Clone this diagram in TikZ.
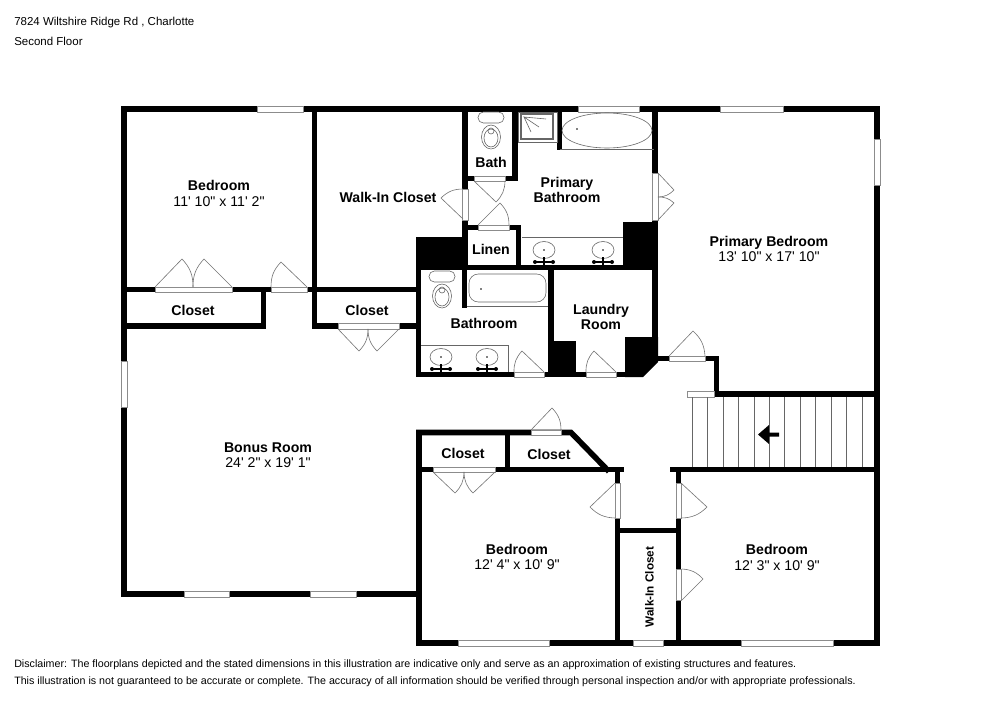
\documentclass[tikz,border=0pt]{standalone}
\usepackage{fontspec}
\newfontfamily\planfont{Liberation Sans}
\begin{document}
\begin{tikzpicture}[x=.75pt,y=-.75pt,wall/.style={draw=black,line width=4.2pt,line cap=rect,miter limit=10},
        opening/.style={draw=black!45,fill=white,line width=.5pt},leaf/.style={draw=black!55,line width=.45pt},
        fixture/.style={draw=black!60,line width=.45pt}]
    \tikzstyle{room}=[align=center,font=\planfont\fontsize{10.6}{11.6}\selectfont]
    \tikzstyle{notes}=[anchor=west,inner sep=0pt,font=\planfont\fontsize{8.02}{9}\selectfont]
    \tikzstyle{header}=[anchor=west,inner sep=0pt,font=\planfont\fontsize{8.62}{9}\selectfont]
    \useasboundingbox (0,0) rectangle (1000,707);

    % outer walls
    \draw[wall] (124,594) -- (124,109) -- (877,109) -- (877,643) -- (419,643) -- (419,432.5) -- (571,432.5) -- (607,469.5);
    \draw[wall] (124,594) -- (419,594);
    \draw[wall] (877,394) -- (716.5,394) -- (716.5,358.5) -- (655,358.5);
    % upper rooms
    \draw[wall] (314.5,109) -- (314.5,326) -- (418.5,326);
    \draw[wall] (124,289.5) -- (418.5,289.5);
    \draw[wall] (263.5,289.5) -- (263.5,326) -- (124,326);
    \draw[wall] (418.5,240) -- (418.5,374.5) -- (640,374.5);
    \draw[wall] (465,109) -- (465,267.5);
    \draw[wall] (465,178.5) -- (515,178.5) -- (515,109);
    \draw[wall] (559.5,109) -- (559.5,147.5);
    \draw[wall] (655,109) -- (655,358);
    \draw[wall] (465,227.5) -- (518.5,227.5) -- (518.5,267.5);
    \draw[wall] (418.5,267.5) -- (655,267.5);
    \draw[wall] (464.5,267.5) -- (464.5,305.5);
    \draw[wall] (551,267.5) -- (551,374.5);
    % lower rooms
    \draw[wall] (419,469.5) -- (621.5,469.5);
    \draw[wall] (507.5,432.5) -- (507.5,469.5);
    \draw[wall] (672.5,469.5) -- (877,469.5);
    \draw[wall] (617.5,469.5) -- (617.5,643);
    \draw[wall] (678.5,469.5) -- (678.5,643);
    \draw[wall] (617.5,530.5) -- (678.5,530.5);
    % solid blocks
    \fill[black] (416,237) rectangle (465,270);
    \fill[black] (623,222) rectangle (658,270);
    \fill[black] (551,341) rectangle (576,377);
    \fill[black] (625,337) -- (658,337) -- (658,362) -- (643,377) -- (625,377) -- cycle;

    % windows, door openings and the rail
    \foreach \xa/\ya/\xb/\yb in {257/106.5/303/112,578/106.5/639/112,720/106.5/783/112,874/139/880/185,
        121/361/127/407,184/591.5/229/597,310/591.5/356/597,458/640/549/646,633/640/663/646,741/640/833/646,
        474/176/505/181,478/225/509/230,462/189/468/220,652/173/658/220,155/287/232/292,271/287/307/292,
        338/323/399/329,514/372/544/377,586/372/616/377,669/356/705/361,531/430/561/435,433/467/495/472,
        615/483/620/518,676/483/681/518,676/569/681/600,687/391/714/397}
        \draw[opening] (\xa,\ya) rectangle (\xb,\yb);

    % door swings
    \draw[leaf] (474,181) -- (496,202) to[bend right=22] (505,181);
    \draw[leaf] (478,225) -- (500,203) to[bend left=22] (509,225);
    \draw[leaf] (463,219) -- (441,198) to[bend left=22] (463,189);
    \draw[leaf] (658,173) -- (674,190) to[bend left=22] (658,197);
    \draw[leaf] (658,220) -- (674,203) to[bend right=22] (658,197);
    \draw[leaf] (155,287) -- (182,259) to[bend left=22] (193,287);
    \draw[leaf] (232,287) -- (204,259) to[bend right=22] (193,287);
    \draw[leaf] (307,287) -- (281,262) to[bend right=22] (271,287);
    \draw[leaf] (338,329) -- (359,351) to[bend right=22] (368,329);
    \draw[leaf] (399,329) -- (377,351) to[bend left=22] (368,329);
    \draw[leaf] (544,372) -- (522,351) to[bend right=22] (514,372);
    \draw[leaf] (616,372) -- (594,351) to[bend right=22] (586,372);
    \draw[leaf] (669,356) -- (693,331) to[bend left=22] (705,356);
    \draw[leaf] (531,430) -- (552,408) to[bend left=22] (561,430);
    \draw[leaf] (433,472) -- (455,493) to[bend right=22] (464,472);
    \draw[leaf] (495,472) -- (473,493) to[bend left=22] (464,472);
    \draw[leaf] (615,483) -- (590,507) to[bend right=22] (615,518);
    \draw[leaf] (681,483) -- (707,507) to[bend left=22] (681,518);
    \draw[leaf] (682,600) -- (703,579) to[bend right=22] (682,569);

    % tubs and shower
    \draw[fixture] (607,130.5) ellipse (45 and 17.5);
    \fill[black] (577,129) circle (.9);
    \draw[fixture] (560,149.5) -- (654,149.5);
    \draw[fixture] (518,112) rectangle (557,142);
    \draw[fixture,line width=.8pt] (521,114) rectangle (553,139);
    \draw[fixture] (546,119) -- (524,117) -- (539,127) (524,117) -- (531,132);
    \draw[fixture,rounded corners=7pt] (469,274) rectangle (546,302);
    \fill[black] (481,289) circle (.9);
    \draw[fixture] (467,306) -- (548,306);
    \draw[fixture] (522,237) -- (623,237);
    \draw[fixture] (421,345) -- (508,345) -- (508,372);

    % toilets
    \foreach \cx/\cy in {491/112,442/271}{
        \draw[fixture,rounded corners=4pt] (\cx-13,\cy) rectangle (\cx+13,\cy+11);
        \draw[fixture,fill=white] (\cx,\cy+25) ellipse (9.5 and 12);
        \draw[fixture] (\cx,\cy+26) ellipse (7 and 9);
        \draw[fixture] (\cx,\cy+19) ellipse (3 and 3);
    }

    % sinks
    \foreach \sx/\sy in {544/250,603/250,441/357,487/357}{
        \draw[fixture] (\sx,\sy) ellipse (11 and 8.5);
        \fill[black] (\sx,\sy) circle (.9);
        \draw[black,line width=1pt] (\sx-9,\sy+12) -- (\sx+9,\sy+12) (\sx,\sy+7) -- (\sx,\sy+15);
        \fill[black] (\sx-9,\sy+12) circle (2) (\sx+9,\sy+12) circle (2);
    }

    % stairs
    \foreach \sx in {692.3,707.7,723,738.7,754,769.3,784.7,800.3,815.7,831,846.7,862}
        \draw[fixture,line width=.6pt] (\sx,397) -- (\sx,467);
    \fill[black] (758,434.5) -- (769,425) -- (769,432.5) -- (779,432.5) -- (779,436.5) -- (769,436.5) -- (769,444) -- cycle;

    % labels
    \node[room] (bedroomA) at (219,193.5) {\textbf{Bedroom}\\11' 10" x 11' 2"};
    \node[room] (walkinA) at (388,197) {\textbf{Walk-In Closet}};
    \node[room] (bath) at (491,162) {\textbf{Bath}};
    \node[room] (primarybath) at (567,190) {\textbf{Primary}\\\textbf{Bathroom}};
    \node[room] (linen) at (491,249) {\textbf{Linen}};
    \node[room] (primarybed) at (769,249) {\textbf{Primary Bedroom}\\13' 10" x 17' 10"};
    \node[room] (closetA) at (193,310) {\textbf{Closet}};
    \node[room] (closetB) at (367,310) {\textbf{Closet}};
    \node[room] (bathroom) at (484,323) {\textbf{Bathroom}};
    \node[room] (laundry) at (601,317) {\textbf{Laundry}\\\textbf{Room}};
    \node[room] (bonus) at (268,455) {\textbf{Bonus Room}\\24' 2" x 19' 1"};
    \node[room] (closetC) at (463,453) {\textbf{Closet}};
    \node[room] (closetD) at (549,454) {\textbf{Closet}};
    \node[room] (bedroomB) at (517,557) {\textbf{Bedroom}\\12' 4" x 10' 9"};
    \node[room] (bedroomC) at (777,557.5) {\textbf{Bedroom}\\12' 3" x 10' 9"};
    \node[room,rotate=90,font=\planfont\fontsize{8.8}{10}\selectfont] (walkinB) at (649.5,587) {\textbf{Walk-In Closet}};

    \node[header] (address) at (14,23) {7824 Wiltshire Ridge Rd , Charlotte};
    \node[header] (floor) at (14,41) {Second Floor};
    \node[notes] (disclaimerA) at (14,664.5) {Disclaimer: The floorplans depicted and the stated dimensions in this illustration are indicative only and serve as an approximation of existing structures and features.};
    \node[notes] (disclaimerB) at (14,681.5) {This illustration is not guaranteed to be accurate or complete. The accuracy of all information should be verified through personal inspection and/or with appropriate professionals.};

\end{tikzpicture}
\end{document}
